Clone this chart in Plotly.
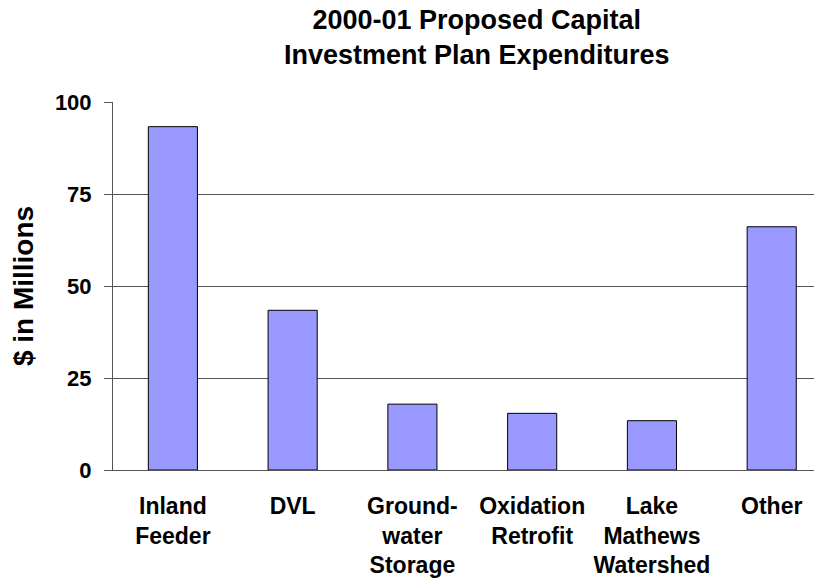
import plotly.graph_objects as go

categories = ["Inland<br>Feeder", "DVL", "Ground-<br>water<br>Storage", "Oxidation<br>Retrofit",
              "Lake<br>Mathews<br>Watershed", "Other"]
values = [93.3, 43.4, 17.9, 15.4, 13.4, 66.1]
y_ticks = [0, 25, 50, 75, 100]
title_text = "2000-01 Proposed Capital<br>Investment Plan Expenditures"

FONT = "Liberation Sans, Arial, sans-serif"
W, H = 814, 573  # page body has an 8px margin

fig = go.Figure(go.Bar(
    x=list(range(len(categories))), y=values,
    width=0.41,
    marker=dict(color="#9999FF", line=dict(color="#000000", width=1)),
))

fig.update_layout(
    width=W, height=H,
    margin=dict(l=105, r=0, t=94, b=111),
    paper_bgcolor="white", plot_bgcolor="white",
    showlegend=False,
    font=dict(family=FONT, color="black"),
)
fig.add_annotation(
    text=f"<b>{title_text}</b>", xref="paper", yref="paper", x=0.514, y=1,
    xanchor="center", yanchor="bottom", yshift=30, showarrow=False,
    font=dict(family=FONT, size=27, color="black"),
)

fig.update_xaxes(
    tickmode="array", tickvals=list(range(len(categories))), ticktext=[f"<b>{c}</b>" for c in categories],
    range=[-0.5, 5.42], showgrid=False, showline=True, linecolor="#555555", linewidth=1,
    ticks="", tickfont=dict(family=FONT, size=23, color="black"), ticklabelstandoff=15,
    zeroline=False,
)
fig.update_yaxes(
    range=[0, 100], tickmode="array", tickvals=y_ticks, ticktext=[f"<b>{t}</b>" for t in y_ticks],
    showgrid=True, gridcolor="#555555", gridwidth=1,
    showline=True, linecolor="#555555", linewidth=1,
    ticks="outside", ticklen=8, tickcolor="#555555",
    tickfont=dict(family=FONT, size=22, color="black"), ticklabelstandoff=8,
    title=dict(text="<b>$ in Millions</b>", font=dict(family=FONT, size=28, color="black"), standoff=19),
    zeroline=False,
)

fig.write_html("out.html")
